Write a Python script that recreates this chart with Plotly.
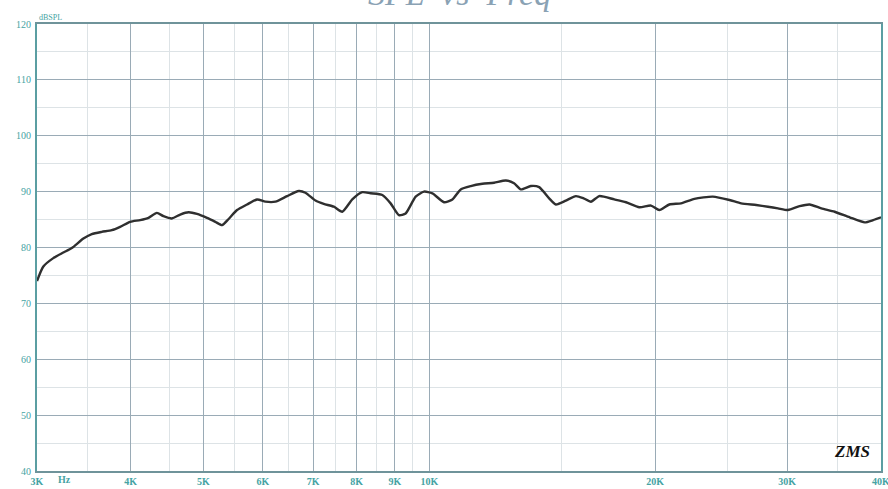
import plotly.graph_objects as go

freq_hz = [3000, 3059, 3154, 3253, 3338, 3459, 3549, 3660, 3774, 3872, 3993, 4117, 4224, 4334,
           4423, 4539, 4656, 4777, 4902, 5055, 5186, 5294, 5402, 5543, 5716, 5895, 6047, 6236,
           6464, 6699, 6838, 7052, 7234, 7460, 7656, 7895, 8141, 8352, 8657, 8881, 9110, 9300,
           9590, 9838, 10096, 10462, 10735, 11012, 11356, 11772, 12199, 12646, 12972, 13242,
           13656, 14009, 14446, 14747, 15207, 15682, 16058, 16422, 16848, 17644, 18289, 19051,
           19749, 20259, 20891, 21656, 22559, 23874, 25123, 26044, 27271, 28272, 29154, 30064,
           31156, 32130, 33309, 34697, 36334, 38048, 39044, 40000]
spl_db = [74.0, 76.6, 78.1, 79.1, 79.9, 81.6, 82.4, 82.8, 83.1, 83.7, 84.6, 84.9, 85.3, 86.2,
          85.6, 85.2, 85.9, 86.3, 86.0, 85.3, 84.6, 84.0, 85.1, 86.7, 87.7, 88.6, 88.2, 88.2,
          89.2, 90.1, 89.8, 88.4, 87.8, 87.3, 86.4, 88.6, 89.9, 89.7, 89.4, 87.9, 85.8, 86.1,
          89.1, 90.0, 89.7, 88.1, 88.6, 90.4, 91.0, 91.4, 91.6, 92.0, 91.5, 90.4,
          91.0, 90.8, 88.8, 87.7, 88.4, 89.2, 88.8, 88.2, 89.2, 88.6, 88.1, 87.2,
          87.5, 86.7, 87.7, 87.9, 88.7, 89.1, 88.5, 87.9, 87.6, 87.3, 87.0, 86.7,
          87.4, 87.7, 87.0, 86.4, 85.4, 84.5, 84.9, 85.4]

x_major_vals = [3000, 4000, 5000, 6000, 7000, 8000, 9000, 10000, 20000, 30000, 40000]
x_major_text = ["3K", "4K", "5K", "6K", "7K", "8K", "9K", "10K", "20K", "30K", "40K"]
x_minor_vals = [3500, 4500, 5500, 6500, 7500, 8500, 9500, 15000, 25000, 35000]
y_major_vals = [40, 50, 60, 70, 80, 90, 100, 110, 120]
y_minor_vals = [45, 55, 65, 75, 85, 95, 105, 115]

teal = "#45a3a3"
fig = go.Figure()
fig.add_trace(go.Scatter(x=freq_hz, y=spl_db, mode="lines",
                         line=dict(color="#2f2f2f", width=2.4, shape="spline", smoothing=0.6),
                         hoverinfo="skip", showlegend=False))

fig.update_layout(
    width=888, height=489,
    margin=dict(l=37, r=7, t=24, b=18, autoexpand=False),
    paper_bgcolor="white", plot_bgcolor="white",
    showlegend=False,
    xaxis=dict(type="log", range=[3.477121, 4.602061], automargin=False,
               tickmode="array", tickvals=x_major_vals, ticktext=x_major_text,
               ticklabeloverflow="allow",
               showgrid=True, gridcolor="#9aabb6", gridwidth=1.3,
               showline=True, linecolor="#6f939a", linewidth=2, mirror=True,
               ticks="", ticklen=0, ticklabelstandoff=0,
               tickfont=dict(family="Liberation Serif", size=10, color=teal, weight="bold"),
               minor=dict(tickmode="array", tickvals=x_minor_vals, showgrid=True,
                          gridcolor="#dde3e6", gridwidth=1.2, ticks=""),
               zeroline=False, fixedrange=True),
    yaxis=dict(range=[40, 120], tickmode="array", tickvals=y_major_vals, automargin=False,
               ticklabeloverflow="allow",
               showgrid=True, gridcolor="#9aabb6", gridwidth=1.3,
               showline=True, linecolor="#5b9ea2", linewidth=2, mirror=True,
               ticks="", ticklen=0, ticklabelstandoff=2,
               tickfont=dict(family="Liberation Serif", size=10, color=teal),
               minor=dict(tickmode="array", tickvals=y_minor_vals, showgrid=True,
                          gridcolor="#dde3e6", gridwidth=1.2, ticks=""),
               zeroline=False, fixedrange=True),
    annotations=[
        dict(text="SPL  vs  Freq", xref="paper", yref="paper", x=0.501, y=1.022,
             xanchor="center", yanchor="bottom", showarrow=False,
             font=dict(family="Liberation Serif", size=34, color="#8aa2b4", style="italic")),
        dict(text="dBSPL", xref="paper", yref="paper", x=0.0, y=1.0,
             xanchor="left", yanchor="bottom", showarrow=False, yshift=0,
             font=dict(family="Liberation Serif", size=8, color=teal)),
        dict(text="Hz", xref="paper", yref="paper", x=0.033, y=0.0,
             xanchor="center", yanchor="top", showarrow=False, yshift=-1,
             font=dict(family="Liberation Serif", size=10, color=teal, weight="bold")),
        dict(text="ZMS", xref="paper", yref="paper", x=0.966, y=0.043,
             xanchor="center", yanchor="middle", showarrow=False,
             font=dict(family="Liberation Serif", size=17, color="#111111",
                       style="italic", weight="bold")),
    ],
)

fig.write_html("out.html", config={"displayModeBar": False},
               post_script="document.body.style.margin='0px';document.body.style.overflow='hidden';")
